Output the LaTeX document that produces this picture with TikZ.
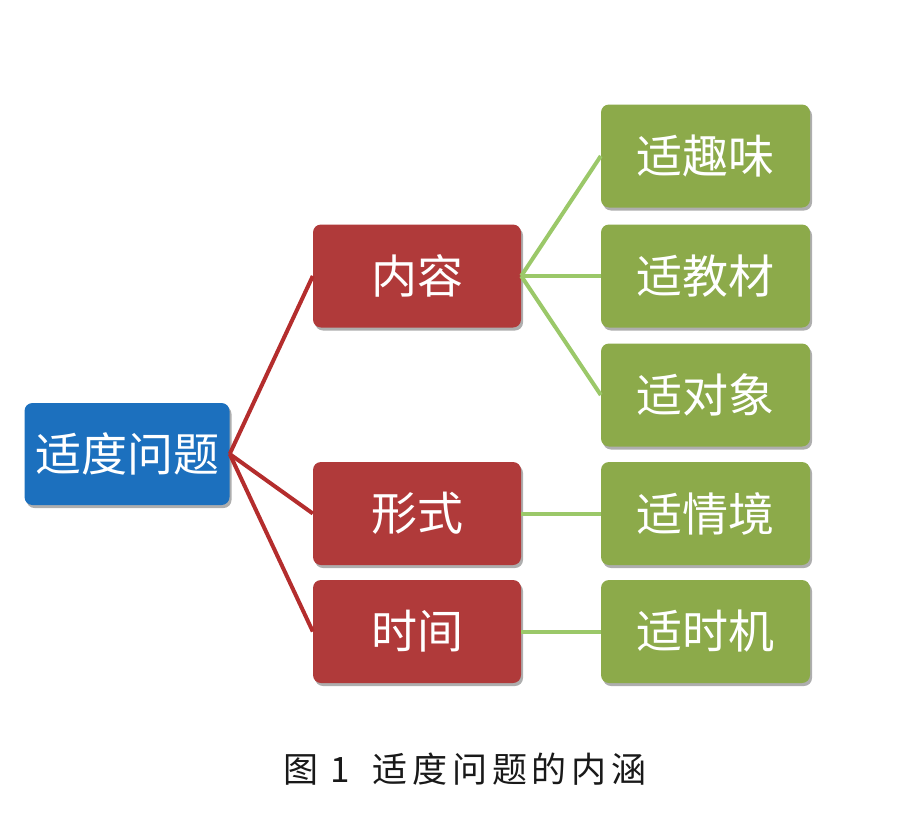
\documentclass[tikz,border=0pt]{standalone}
\usepackage{fontspec}
\newfontfamily\cjk{Noto Sans CJK SC}
\newfontfamily\cjkcap[LetterSpace=14]{Noto Sans CJK SC}
\usetikzlibrary{shadows}
\definecolor{bluebox}{RGB}{28,112,190}
\definecolor{redbox}{RGB}{176,58,58}
\definecolor{greenbox}{RGB}{140,170,74}
\definecolor{redline}{RGB}{180,45,45}
\definecolor{greenline}{RGB}{155,200,105}
\tikzset{
  box/.style={rounded corners=8pt, minimum height=103pt, inner sep=0pt,
    text=white, font=\cjk\fontsize{46}{50}\selectfont,
    drop shadow={shadow xshift=2pt, shadow yshift=-3pt, opacity=0.45, fill=black!70}},
  rootbox/.style={box, fill=bluebox, minimum width=205pt, minimum height=102pt},
  midbox/.style={box, fill=redbox, minimum width=208pt},
  leafbox/.style={box, fill=greenbox, minimum width=209pt},
  redlink/.style={draw=redline, line width=4pt},
  greenlink/.style={draw=greenline, line width=4pt},
}
\begin{document}
\begin{tikzpicture}[x=1pt,y=-1pt]
\useasboundingbox (0,0) rectangle (904,816);
\node[rootbox] (root) at (127,454) {适度问题};
\node[midbox] (m1) at (417,276) {内容};
\node[midbox] (m2) at (417,513.5) {形式};
\node[midbox] (m3) at (417,631.5) {时间};
\node[leafbox] (g1) at (705.5,156) {适趣味};
\node[leafbox] (g2) at (705.5,276) {适教材};
\node[leafbox] (g3) at (705.5,395) {适对象};
\node[leafbox] (g4) at (705.5,513.5) {适情境};
\node[leafbox] (g5) at (705.5,631.5) {适时机};
\draw[redlink] (root.east) -- (m1.west);
\draw[redlink] (root.east) -- (m2.west);
\draw[redlink] (root.east) -- (m3.west);
\draw[greenlink] (m1.east) -- (g1.west);
\draw[greenlink] (m1.east) -- (g2.west);
\draw[greenlink] (m1.east) -- (g3.west);
\draw[greenlink] (m2.east) -- (g4.west);
\draw[greenlink] (m3.east) -- (g5.west);
\node[font=\cjkcap\fontsize{35}{38}\selectfont, text=black!90] (cap) at (465,769) {图 1\hspace{22pt}适度问题的内涵};
\end{tikzpicture}
\end{document}
